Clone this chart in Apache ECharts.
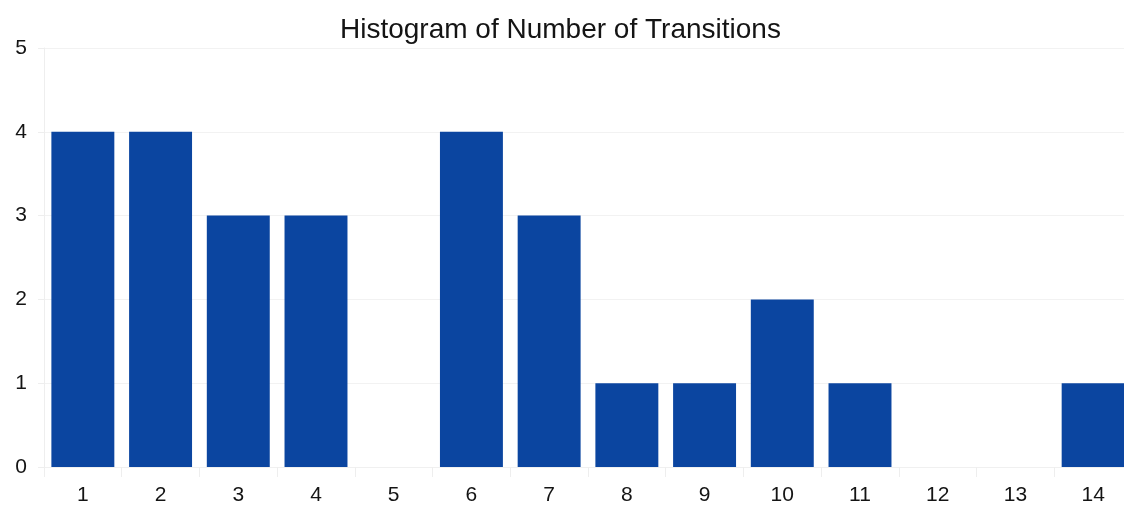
<!DOCTYPE html>
<html>
<head>
<meta charset="utf-8">
<script src="https://cdn.jsdelivr.net/npm/echarts@6/dist/echarts.min.js"></script>
<style>
  html, body { margin: 0; padding: 0; background: #fff; overflow: hidden; }
  #chart { width: 1132px; height: 506px; }
</style>
</head>
<body>
<div id="chart"></div>
<script>
  const categories = ['1','2','3','4','5','6','7','8','9','10','11','12','13','14'];
  const counts = [4, 4, 3, 3, 0, 4, 3, 1, 1, 2, 1, 0, 0, 1];
  const yTicks = { min: 0, max: 5, interval: 1 };

  // plot area runs a few px past the window edge, like the reference crop
  var myChart = echarts.init(document.getElementById('chart'));
  var option = {
    animation: false,
    title: {
      text: 'Histogram of Number of Transitions',
      left: 335,
      top: 11,
      textStyle: {
        color: '#141414',
        fontSize: 28,
        fontWeight: 'normal',
        fontFamily: 'Liberation Sans'
      }
    },
    grid: {
      top: 48,
      left: 44,
      right: 0,
      bottom: 38,
      containLabel: false
    },
    xAxis: {
      type: 'category',
      data: categories,
      axisLine: { show: true, lineStyle: { color: '#f0f0f0' } },
      axisTick: { show: true, length: 10, lineStyle: { color: '#eeeeee' } },
      axisLabel: {
        color: '#141414',
        fontSize: 21,
        fontFamily: 'Liberation Sans',
        margin: 18
      }
    },
    yAxis: {
      type: 'value',
      min: yTicks.min,
      max: yTicks.max,
      interval: yTicks.interval,
      axisLine: { show: true, lineStyle: { color: '#eeeeee' } },
      axisTick: { show: true, length: 6, lineStyle: { color: '#eeeeee' } },
      splitLine: { lineStyle: { color: '#f2f2f2' } },
      axisLabel: {
        color: '#141414',
        fontSize: 21,
        fontFamily: 'Liberation Sans',
        margin: 17
      }
    },
    series: [
      {
        type: 'bar',
        data: counts,
        barCategoryGap: '19%',
        itemStyle: {
          color: '#0b45a0'
        }
      }
    ]
  };
  myChart.setOption(option);
</script>
</body>
</html>
